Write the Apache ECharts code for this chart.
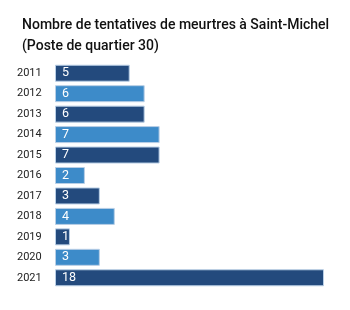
<!DOCTYPE html>
<html><head><meta charset="utf-8">
<script src="https://cdn.jsdelivr.net/npm/echarts@6/dist/echarts.min.js"></script>
<style>html,body{margin:0;padding:0;background:#fff}#c{width:350px;height:310px}</style>
</head><body><div id="c"></div>
<script>
const years = ['2011','2012','2013','2014','2015','2016','2017','2018','2019','2020','2021'];
const values = [5,6,6,7,7,2,3,4,1,3,18];
const darkColor = '#234a7d';
const lightColor = '#3d8bc9';
const chart = echarts.init(document.getElementById('c'));
chart.setOption({
  animation: false,
  title: {
    text: 'Nombre de tentatives de meurtres à Saint-Michel\n(Poste de quartier 30)',
    left: 17, top: 10,
    textStyle: {fontFamily: 'Roboto', fontSize: 14, fontWeight: 500, color: '#111', lineHeight: 21}
  },
  grid: {left: 55, right: 26, top: 63, bottom: 22},
  xAxis: {type: 'value', min: 0, max: 18, show: false},
  yAxis: {
    type: 'category', data: years, inverse: true,
    axisLine: {show: false}, axisTick: {show: false},
    axisLabel: {fontFamily: 'Roboto', fontSize: 11, color: '#222', align: 'left', margin: 38}
  },
  series: [{
    type: 'bar',
    barWidth: 17,
    data: values.map((v, i) => ({
      value: v,
      itemStyle: {color: i % 2 === 0 ? darkColor : lightColor, borderColor: '#b9cfe6', borderWidth: 1}
    })),
    label: {show: true, position: 'insideLeft', offset: [2, 0], color: '#fff', fontFamily: 'Roboto', fontSize: 12.5}
  }]
});
</script></body></html>
